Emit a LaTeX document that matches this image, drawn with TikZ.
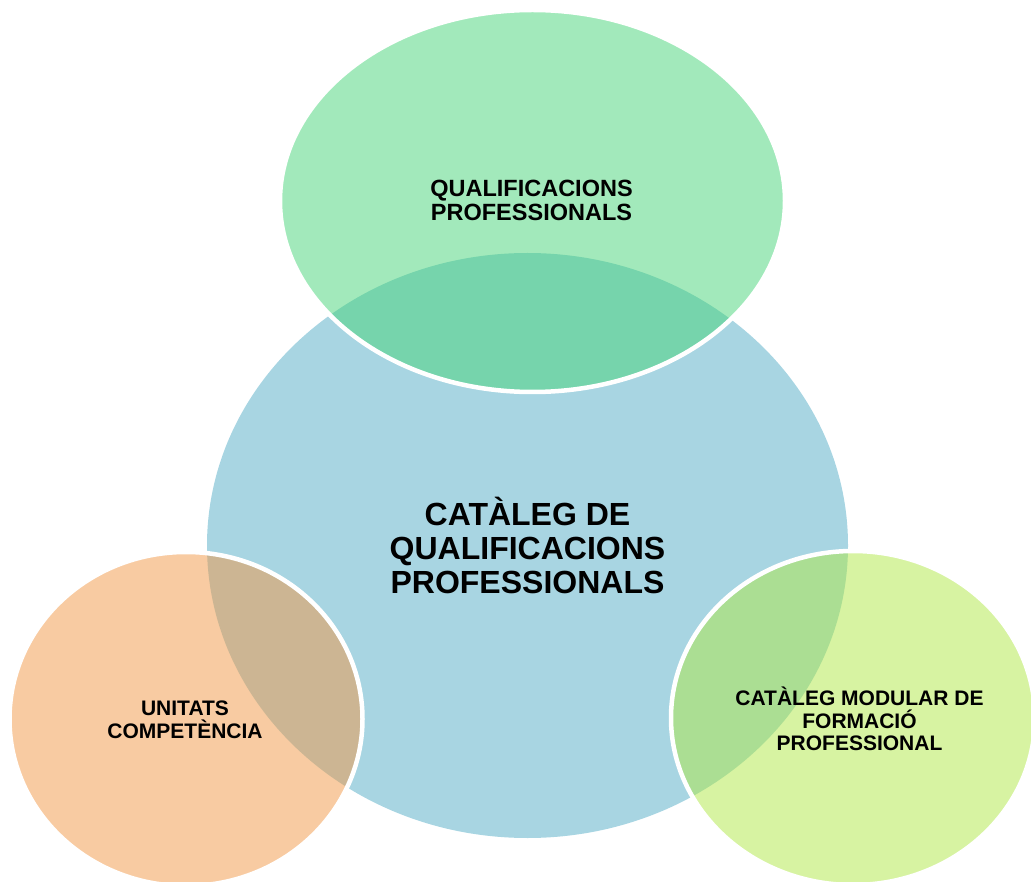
\documentclass[tikz,border=0pt]{standalone}
\usepackage{fontspec}
\setmainfont{Liberation Sans}
\definecolor{cblue}{RGB}{168,213,226}
\definecolor{cgreen}{RGB}{69,212,119}
\definecolor{corange}{RGB}{241,151,69}
\definecolor{cyellow}{RGB}{175,231,69}
\begin{document}
\begin{tikzpicture}[x=1pt,y=-1pt,
  overlay/.style={fill=#1, fill opacity=0.5, draw=white, draw opacity=1, line width=4.5pt},
  bigtxt/.style={align=center, font=\fontsize{32}{34}\selectfont\bfseries, inner sep=0pt, text=black},
  smalltxt/.style={align=center, font=\fontsize{21}{22.5}\selectfont\bfseries, inner sep=0pt, text=black},
  toptxt/.style={align=center, font=\fontsize{23.5}{24}\selectfont\bfseries, inner sep=0pt, text=black}]
\useasboundingbox (0,0) rectangle (1031,882);
% central circle
\fill[cblue] (527.5,545.5) ellipse [x radius=320.5pt, y radius=292.5pt];
% top
\path[overlay=cgreen] (532.5,201) ellipse [x radius=252.5pt, y radius=191pt];
% left
\path[overlay=corange] (186,719) ellipse [x radius=176.5pt, y radius=167pt];
% right
\path[overlay=cyellow] (853,718) ellipse [x radius=182pt, y radius=167pt];
% texts
\node[bigtxt] (cat) at (527.5,545) {CATÀLEG DE\\QUALIFICACIONS\\PROFESSIONALS};
\node[toptxt] (qual) at (531.5,200) {QUALIFICACIONS\\PROFESSIONALS};
\node[smalltxt] (unit) at (185,720) {UNITATS\\COMPETÈNCIA};
\node[smalltxt] (mod) at (859.5,719) {CATÀLEG MODULAR DE\\FORMACIÓ\\PROFESSIONAL};
\end{tikzpicture}
\end{document}
